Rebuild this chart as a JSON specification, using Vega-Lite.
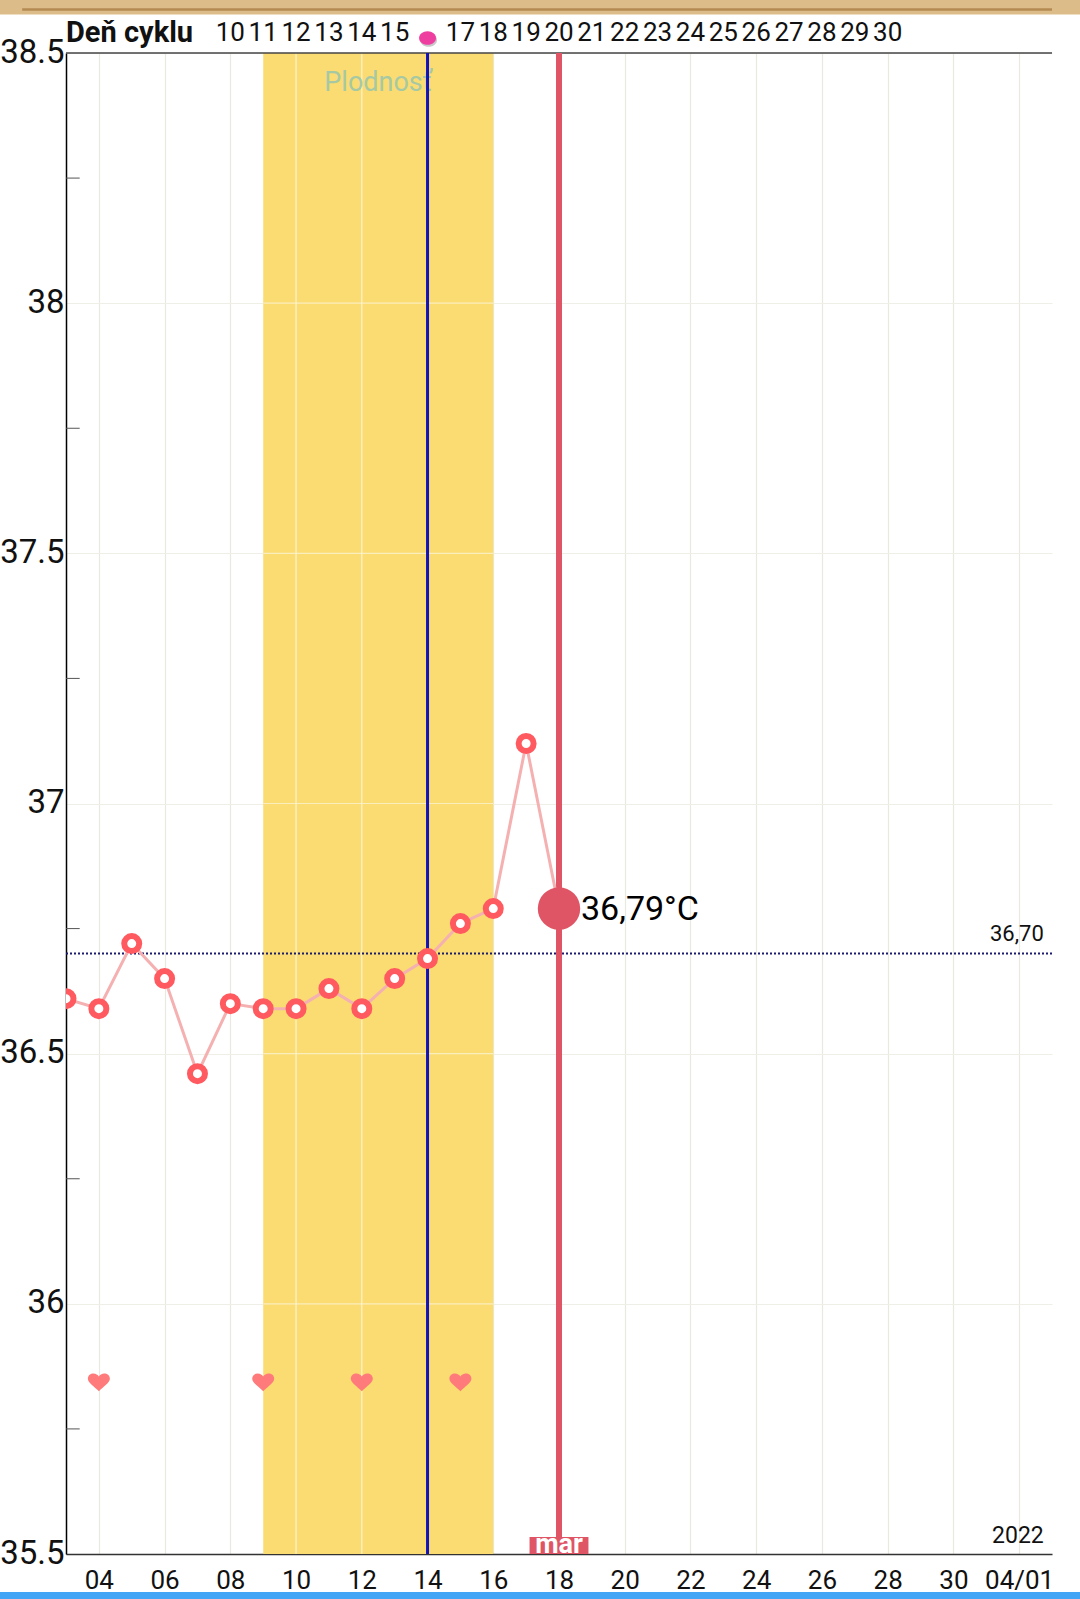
{
"$schema":"https://vega.github.io/schema/vega-lite/v6.json",
"width":986,"height":1501,
"autosize":{"type":"none"},
"padding":{"left":66,"top":53,"right":28,"bottom":45},
"background":"white",
"config":{"view":{"stroke":null},"font":"Roboto","text":{"font":"Roboto"}},
"datasets":{
"temps":[
{"date":"2022-03-03","t":36.61},{"date":"2022-03-04","t":36.59},{"date":"2022-03-05","t":36.72},{"date":"2022-03-06","t":36.65},{"date":"2022-03-07","t":36.46},{"date":"2022-03-08","t":36.60},{"date":"2022-03-09","t":36.59},{"date":"2022-03-10","t":36.59},{"date":"2022-03-11","t":36.63},{"date":"2022-03-12","t":36.59},{"date":"2022-03-13","t":36.65},{"date":"2022-03-14","t":36.69},{"date":"2022-03-15","t":36.76},{"date":"2022-03-16","t":36.79},{"date":"2022-03-17","t":37.12},{"date":"2022-03-18","t":36.79}],
"current":[{"date":"2022-03-18","t":36.79,"label":"36,79°C"}],
"hearts":[{"date":"2022-03-04"},{"date":"2022-03-09"},{"date":"2022-03-12"},{"date":"2022-03-15"}],
"cycle":[{"date":"2022-03-08","label":"10"},{"date":"2022-03-09","label":"11"},{"date":"2022-03-10","label":"12"},{"date":"2022-03-11","label":"13"},{"date":"2022-03-12","label":"14"},{"date":"2022-03-13","label":"15"},{"date":"2022-03-15","label":"17"},{"date":"2022-03-16","label":"18"},{"date":"2022-03-17","label":"19"},{"date":"2022-03-18","label":"20"},{"date":"2022-03-19","label":"21"},{"date":"2022-03-20","label":"22"},{"date":"2022-03-21","label":"23"},{"date":"2022-03-22","label":"24"},{"date":"2022-03-23","label":"25"},{"date":"2022-03-24","label":"26"},{"date":"2022-03-25","label":"27"},{"date":"2022-03-26","label":"28"},{"date":"2022-03-27","label":"29"},{"date":"2022-03-28","label":"30"}],
"ovulation":[{"date":"2022-03-14"}],
"fertile":[{"date":"2022-03-09","end":"2022-03-16"}],
"fertileH":[{"date":"2022-03-09","end":"2022-03-16","t":36},{"date":"2022-03-09","end":"2022-03-16","t":36.5},{"date":"2022-03-09","end":"2022-03-16","t":37},{"date":"2022-03-09","end":"2022-03-16","t":37.5},{"date":"2022-03-09","end":"2022-03-16","t":38}],
"fertileV":[{"date":"2022-03-10"},{"date":"2022-03-12"}],
"minor":[{"date":"2022-03-03","end":"2022-03-03T10:00:00Z","t":35.75},{"date":"2022-03-03","end":"2022-03-03T10:00:00Z","t":36.25},{"date":"2022-03-03","end":"2022-03-03T10:00:00Z","t":36.75},{"date":"2022-03-03","end":"2022-03-03T10:00:00Z","t":37.25},{"date":"2022-03-03","end":"2022-03-03T10:00:00Z","t":37.75},{"date":"2022-03-03","end":"2022-03-03T10:00:00Z","t":38.25}],
"span":[{"date":"2022-03-03","end":"2022-04-02"}],
"wood":[{"date":"2022-02-28T23:00:00Z","end":"2022-04-02T21:00:00Z"}],
"stripe":[{"date":"2022-03-01T16:00:00Z","end":"2022-04-02T00:00:00Z"}],
"mar":[{"date":"2022-03-17T02:30:00Z","end":"2022-03-18T21:30:00Z"}],
"marText":[{"date":"2022-03-18","label":"mar"}],
"plod":[{"date":"2022-03-12T12:00:00Z","label":"Plodnosť"}],
"baseline":[{"date":"2022-04-01T18:00:00Z","t":36.7,"label":"36,70"}],
"year":[{"date":"2022-04-01T18:00:00Z","label":"2022"}],
"title":[{"date":"2022-03-03","label":"Deň cyklu"}],
"redline":[{"date":"2022-03-18"}],
"blueline":[{"date":"2022-03-14"}]
},
"encoding":{
"x":{"field":"date","type":"temporal","title":null,
"scale":{"type":"utc","domain":[{"year":2022,"month":3,"date":3,"utc":true},{"year":2022,"month":4,"date":2,"utc":true}]},
"axis":{"title":null,"values":[{"year":2022,"month":3,"date":4,"utc":true},{"year":2022,"month":3,"date":6,"utc":true},{"year":2022,"month":3,"date":8,"utc":true},{"year":2022,"month":3,"date":10,"utc":true},{"year":2022,"month":3,"date":12,"utc":true},{"year":2022,"month":3,"date":14,"utc":true},{"year":2022,"month":3,"date":16,"utc":true},{"year":2022,"month":3,"date":18,"utc":true},{"year":2022,"month":3,"date":20,"utc":true},{"year":2022,"month":3,"date":22,"utc":true},{"year":2022,"month":3,"date":24,"utc":true},{"year":2022,"month":3,"date":26,"utc":true},{"year":2022,"month":3,"date":28,"utc":true},{"year":2022,"month":3,"date":30,"utc":true},{"year":2022,"month":4,"date":1,"utc":true}],
"labelExpr":"utcdate(datum.value)==1 ? '04/01' : (utcdate(datum.value)<10?'0':'')+utcdate(datum.value)",
"labelFont":"Roboto","labelFontSize":26,"labelColor":"#111111","labelPadding":26,"labelBaseline":"middle","labelAngle":0,"labelFlush":false,"labelOverlap":false,
"ticks":false,"domainColor":"#333333","domainWidth":1.5,"grid":true,"gridColor":"#e9e9e1","gridWidth":1.2}}
},
"layer":[
{"data":{"name":"fertile"},"mark":{"type":"rect","color":"#fadc73"},
"encoding":{"x2":{"field":"end"},"y":{"datum":35.5,"type":"quantitative","title":null,
"scale":{"domain":[35.5,38.5],"nice":false,"zero":false},
"axis":{"title":null,"values":[35.5,36,36.5,37,37.5,38,38.5],
"labelExpr":"replace(format(datum.value,'.1f'),'.0','')",
"labelFont":"Roboto","labelFontSize":33,"labelColor":"#111111","labelPadding":2,"labelOffset":-1,"labelFlush":false,"labelOverlap":false,
"ticks":false,"domainColor":"#000000","domainWidth":1.5,"grid":true,"gridColor":"#efefe8","gridWidth":1.2}},"y2":{"datum":38.5}}},
{"data":{"name":"fertileH"},"mark":{"type":"rule","color":"#fbeebd","strokeWidth":1.2},
"encoding":{"x2":{"field":"end"},"y":{"field":"t","type":"quantitative","title":null}}},
{"data":{"name":"fertileV"},"mark":{"type":"rule","color":"#fdf3cf","strokeWidth":1.2},
"encoding":{"y":{"datum":35.5,"type":"quantitative"},"y2":{"datum":38.5}}},
{"data":{"name":"minor"},"mark":{"type":"rule","color":"#555555","strokeWidth":1},
"encoding":{"x2":{"field":"end"},"y":{"field":"t","type":"quantitative","title":null}}},
{"data":{"name":"span"},"mark":{"type":"rule","color":"#444444","strokeWidth":1.5},
"encoding":{"x2":{"field":"end"},"y":{"datum":38.5,"type":"quantitative"}}},
{"data":{"name":"wood"},"mark":{"type":"rect","color":"#dcbd8a","clip":false},
"encoding":{"x2":{"field":"end"},"y":{"datum":38.577,"type":"quantitative"},"y2":{"datum":38.606}}},
{"data":{"name":"stripe"},"mark":{"type":"rule","color":"#b48a50","strokeWidth":2.5,"clip":false},
"encoding":{"x2":{"field":"end"},"y":{"datum":38.587,"type":"quantitative"}}},
{"data":{"name":"wood"},"mark":{"type":"rect","color":"#42a5f5","clip":false},
"encoding":{"x2":{"field":"end"},"y":{"datum":35.41,"type":"quantitative"},"y2":{"datum":35.424}}},
{"data":{"name":"plod"},"mark":{"type":"text","font":"Roboto","fontSize":27,"color":"#a6c9a4","align":"center","baseline":"middle"},
"encoding":{"y":{"datum":38.44,"type":"quantitative"},"text":{"field":"label"}}},
{"data":{"name":"blueline"},"mark":{"type":"rule","color":"#1212bb","strokeWidth":3},
"encoding":{"y":{"datum":35.5,"type":"quantitative"},"y2":{"datum":38.5}}},
{"data":{"name":"span"},"mark":{"type":"rule","color":"#1a1a6e","strokeWidth":2,"strokeDash":[2,2]},
"encoding":{"x2":{"field":"end"},"y":{"datum":36.7,"type":"quantitative"}}},
{"data":{"name":"redline"},"mark":{"type":"rule","color":"#e05565","strokeWidth":6},
"encoding":{"y":{"datum":35.5,"type":"quantitative"},"y2":{"datum":38.5}}},
{"data":{"name":"mar"},"mark":{"type":"rect","color":"#e05565"},
"encoding":{"x2":{"field":"end"},"y":{"datum":35.5,"type":"quantitative"},"y2":{"datum":35.534}}},
{"data":{"name":"marText"},"mark":{"type":"text","font":"Roboto","fontSize":27,"fontWeight":"bold","color":"#ffffff","align":"center","baseline":"alphabetic"},
"encoding":{"y":{"datum":35.502,"type":"quantitative"},"text":{"field":"label"}}},
{"data":{"name":"temps"},"mark":{"type":"line","color":"#f5b1b1","strokeWidth":3,"clip":true},
"encoding":{"y":{"field":"t","type":"quantitative","title":null}}},
{"data":{"name":"temps"},"transform":[{"filter":"datum.t != 36.79 || utcdate(datum.date) != 18"}],"mark":{"type":"point","filled":false,"fill":"#ffffff","fillOpacity":1,"opacity":1,"stroke":"#ff5a5f","strokeWidth":6,"size":225,"clip":true},
"encoding":{"y":{"field":"t","type":"quantitative","title":null}}},
{"data":{"name":"current"},"mark":{"type":"point","filled":true,"color":"#e05565","opacity":1,"size":1800},
"encoding":{"y":{"field":"t","type":"quantitative","title":null}}},
{"data":{"name":"current"},"mark":{"type":"text","font":"Roboto","fontSize":34,"color":"#000000","align":"left","baseline":"middle","dx":22,"dy":1},
"encoding":{"y":{"field":"t","type":"quantitative","title":null},"text":{"field":"label"}}},
{"data":{"name":"hearts"},"mark":{"type":"point","filled":true,"opacity":1,"color":"#ff7a7a","size":484,"shape":"M0,0.84 C-0.4,0.44 -1,0.1 -1,-0.28 C-1,-0.6 -0.74,-0.76 -0.5,-0.76 C-0.26,-0.76 -0.1,-0.64 0,-0.48 C0.1,-0.64 0.26,-0.76 0.5,-0.76 C0.74,-0.76 1,-0.6 1,-0.28 C1,0.1 0.4,0.44 0,0.84 Z"},
"encoding":{"y":{"datum":35.844,"type":"quantitative"}}},
{"data":{"name":"baseline"},"mark":{"type":"text","font":"Roboto","fontSize":22,"color":"#111111","align":"right","baseline":"middle","dy":-20},
"encoding":{"y":{"field":"t","type":"quantitative","title":null},"text":{"field":"label"}}},
{"data":{"name":"year"},"mark":{"type":"text","font":"Roboto","fontSize":23,"color":"#111111","align":"right","baseline":"middle"},
"encoding":{"y":{"datum":35.536,"type":"quantitative"},"text":{"field":"label"}}},
{"data":{"name":"title"},"mark":{"type":"text","font":"Roboto","fontWeight":"bold","fontSize":29,"color":"#111111","align":"left","baseline":"middle"},
"encoding":{"y":{"datum":38.54,"type":"quantitative"},"text":{"field":"label"}}},
{"data":{"name":"cycle"},"mark":{"type":"text","font":"Roboto","fontSize":26,"color":"#111111","align":"center","baseline":"middle"},
"encoding":{"y":{"datum":38.54,"type":"quantitative"},"text":{"field":"label"}}},
{"data":{"name":"ovulation"},"mark":{"type":"point","filled":true,"opacity":1,"color":"#c9c9c9","size":289,"clip":false,"xOffset":1,"yOffset":2,"shape":"M-1,0 A1,0.8 0 1,1 1,0 A1,0.8 0 1,1 -1,0 Z"},
"encoding":{"y":{"datum":38.53,"type":"quantitative"}}},
{"data":{"name":"ovulation"},"mark":{"type":"point","filled":true,"opacity":1,"color":"#ee3fa0","size":289,"clip":false,"shape":"M-1,0 A1,0.8 0 1,1 1,0 A1,0.8 0 1,1 -1,0 Z"},
"encoding":{"y":{"datum":38.53,"type":"quantitative"}}}
]
}
